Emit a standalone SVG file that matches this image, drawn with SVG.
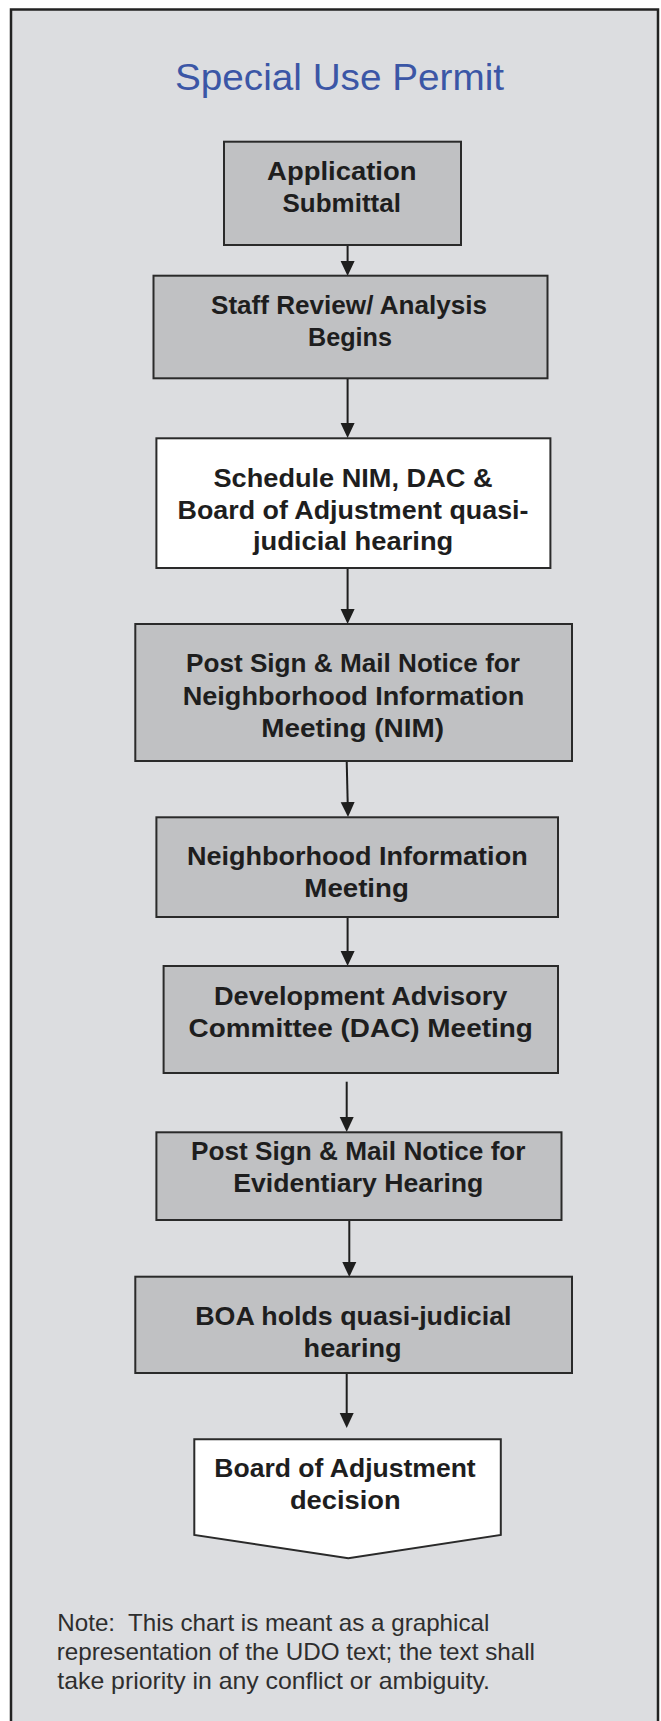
<svg xmlns="http://www.w3.org/2000/svg" width="661" height="1721" viewBox="0 0 661 1721">
<style>
.box{fill:#c0c1c3;stroke:#2a2a2a;stroke-width:2}
.wbox{fill:#ffffff;stroke:#2a2a2a;stroke-width:2}
.t{font-family:"Liberation Sans",Arial,sans-serif;font-weight:bold;font-size:26px;fill:#1e1e1e;text-anchor:middle}
.note{font-family:"Liberation Sans",Arial,sans-serif;font-size:24px;fill:#2e2e2e}
.title{font-family:"Liberation Sans",Arial,sans-serif;font-size:37px;fill:#3b56a6;text-anchor:middle}
.c{stroke:#1e1e1e;stroke-width:2;fill:none;marker-end:url(#ah)}
</style>
<defs>
<marker id="ah" markerUnits="userSpaceOnUse" markerWidth="16" markerHeight="16" refX="5" refY="7" orient="auto" viewBox="0 0 16 14">
<path d="M0,0 L15,7 L0,14 z" fill="#1e1e1e"/>
</marker>
</defs>
<rect x="0" y="0" width="661" height="1721" fill="#ffffff"/>
<rect id="frame" x="11" y="9.5" width="647" height="1740" fill="#dcdde0" stroke="#222222" stroke-width="2.5"/>
<text class="title" x="339.5" y="89.5" textLength="329" lengthAdjust="spacingAndGlyphs">Special Use Permit</text>

<g id="connectors">
<path class="c" d="M347.6,245 L347.6,266"/>
<path class="c" d="M347.6,378.3 L347.6,428"/>
<path class="c" d="M347.6,568 L347.6,614"/>
<path class="c" d="M346.7,761 L347.8,807"/>
<path class="c" d="M347.6,917 L347.6,956"/>
<path class="c" d="M346.7,1081.7 L346.7,1122"/>
<path class="c" d="M349.3,1220 L349.3,1267"/>
<path class="c" d="M346.7,1373 L346.7,1418"/>
</g>

<g id="n1">
<rect class="box" x="224" y="141.7" width="237" height="103.3"/>
<text class="t" x="341.8" y="180" textLength="149.5" lengthAdjust="spacingAndGlyphs">Application</text>
<text class="t" x="341.7" y="211.7" textLength="118.3" lengthAdjust="spacingAndGlyphs">Submittal</text>
</g>
<g id="n2">
<rect class="box" x="153.5" y="275.7" width="394" height="102.6"/>
<text class="t" x="349" y="314.3" textLength="276" lengthAdjust="spacingAndGlyphs">Staff Review/ Analysis</text>
<text class="t" x="350" y="345.7" textLength="84" lengthAdjust="spacingAndGlyphs">Begins</text>
</g>
<g id="n3">
<rect class="wbox" x="156.4" y="438.3" width="394" height="129.7"/>
<text class="t" x="353" y="486.5" textLength="279" lengthAdjust="spacingAndGlyphs">Schedule NIM, DAC &amp;</text>
<text class="t" x="353" y="519" textLength="351" lengthAdjust="spacingAndGlyphs">Board of Adjustment quasi-</text>
<text class="t" x="353.1" y="550" textLength="200.4" lengthAdjust="spacingAndGlyphs">judicial hearing</text>
</g>
<g id="n4">
<rect class="box" x="135.3" y="624" width="436.7" height="137"/>
<text class="t" x="353" y="671.7" textLength="334" lengthAdjust="spacingAndGlyphs">Post Sign &amp; Mail Notice for</text>
<text class="t" x="353.5" y="705" textLength="341.6" lengthAdjust="spacingAndGlyphs">Neighborhood Information</text>
<text class="t" x="352.6" y="736.7" textLength="182.7" lengthAdjust="spacingAndGlyphs">Meeting (NIM)</text>
</g>
<g id="n5">
<rect class="box" x="156.4" y="817.3" width="401.6" height="99.7"/>
<text class="t" x="357.3" y="865" textLength="340.7" lengthAdjust="spacingAndGlyphs">Neighborhood Information</text>
<text class="t" x="356.6" y="896.7" textLength="104.5" lengthAdjust="spacingAndGlyphs">Meeting</text>
</g>
<g id="n6">
<rect class="box" x="163.6" y="966" width="394.4" height="107"/>
<text class="t" x="360.7" y="1004.7" textLength="293.4" lengthAdjust="spacingAndGlyphs">Development Advisory</text>
<text class="t" x="360.7" y="1036.5" textLength="344.2" lengthAdjust="spacingAndGlyphs">Committee (DAC) Meeting</text>
</g>
<g id="n7">
<rect class="box" x="156.4" y="1132.3" width="405.1" height="87.7"/>
<text class="t" x="358.3" y="1160" textLength="334.5" lengthAdjust="spacingAndGlyphs">Post Sign &amp; Mail Notice for</text>
<text class="t" x="358.3" y="1191.7" textLength="250" lengthAdjust="spacingAndGlyphs">Evidentiary Hearing</text>
</g>
<g id="n8">
<rect class="box" x="135.3" y="1276.7" width="436.7" height="96.3"/>
<text class="t" x="353.4" y="1325" textLength="316.3" lengthAdjust="spacingAndGlyphs">BOA holds quasi-judicial</text>
<text class="t" x="352.6" y="1356.7" textLength="98" lengthAdjust="spacingAndGlyphs">hearing</text>
</g>
<g id="n9">
<path class="wbox" d="M194.3,1439.3 L500.8,1439.3 L500.8,1535 L348.3,1558.3 L194.3,1535 Z"/>
<text class="t" x="345" y="1476.7" textLength="261.4" lengthAdjust="spacingAndGlyphs">Board of Adjustment</text>
<text class="t" x="345.3" y="1509" textLength="110.7" lengthAdjust="spacingAndGlyphs">decision</text>
</g>

<g id="note">
<text class="note" x="57.3" y="1631" textLength="432" lengthAdjust="spacingAndGlyphs" xml:space="preserve">Note:  This chart is meant as a graphical</text>
<text class="note" x="56.7" y="1660" textLength="478.3" lengthAdjust="spacingAndGlyphs">representation of the UDO text; the text shall</text>
<text class="note" x="57.3" y="1689" textLength="432.7" lengthAdjust="spacingAndGlyphs">take priority in any conflict or ambiguity.</text>
</g>
</svg>
